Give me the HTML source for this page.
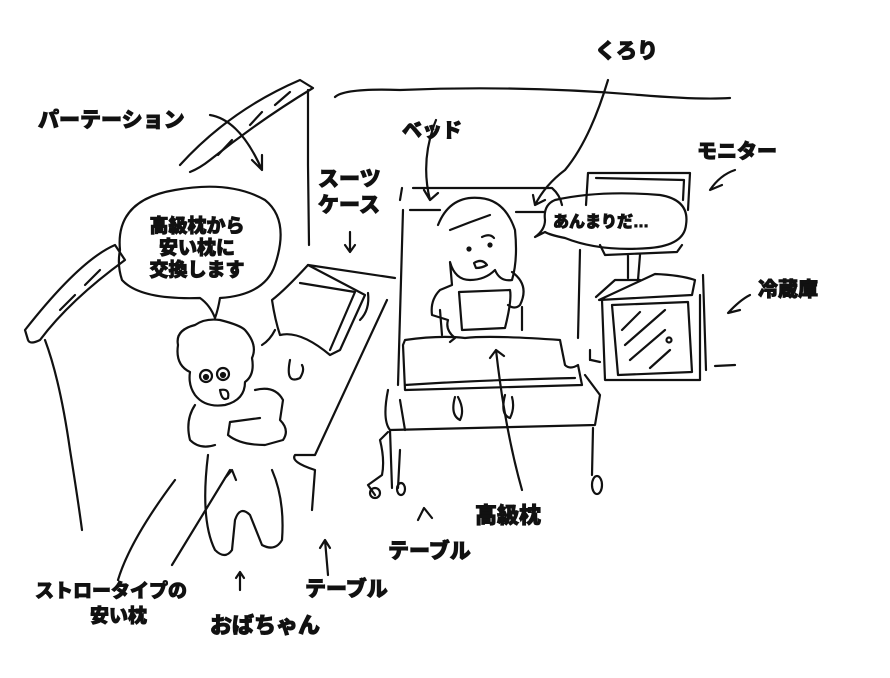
<!DOCTYPE html>
<html><head><meta charset="utf-8"><style>
html,body{margin:0;padding:0;background:#fff;}
svg{display:block}
text{font-family:"Liberation Sans","Noto Sans CJK JP",sans-serif;font-weight:900;fill:#111;stroke:#111;stroke-width:0.9;paint-order:stroke}
</style></head><body>
<svg width="890" height="678" viewBox="0 0 890 678" xmlns="http://www.w3.org/2000/svg">
<g fill="none" stroke="#111" stroke-width="2.2" stroke-linecap="round" stroke-linejoin="round">
<path d="M335 97 Q345 88 400 90 Q520 85 640 95 Q700 100 730 98"/>
<path d="M180 165 Q230 110 300 80 L313 88 Q260 120 210 160 Q200 168 190 172"/>
<path d="M218 155 L232 140 M250 125 L262 112 M275 105 L290 92"/>
<path d="M308 90 L308 165 L309 245"/>
<path d="M25 330 Q80 260 115 245 L125 260 Q70 300 40 340 Q30 345 28 340Z"/>
<path d="M60 310 L75 295 M85 285 L100 270"/>
<path d="M45 340 Q60 380 70 450 Q78 500 82 530"/>
<path d="M118 580 Q130 540 175 480"/>
<path d="M210 115 Q240 120 262 170 M252 160 L262 170 L262 155"/>
<path d="M120 250 Q115 200 175 190 Q230 180 265 200 Q290 220 275 265 Q265 295 220 298 Q218 310 215 318 Q210 305 200 298 Q140 300 122 280 Q117 265 120 250Z"/>
<path d="M308 265 L395 278"/>
<path d="M308 265 Q285 290 272 300 Q275 320 280 335 Q300 330 330 355 L340 350 L365 295 Z"/>
<path d="M300 283 L355 292 L330 350"/>
<path d="M368 293 Q370 310 360 320"/>
<path d="M387 300 Q350 380 315 455 L295 455 Q290 462 315 470 L312 510"/>
<path d="M262 345 Q270 340 275 330"/>
<path d="M290 360 Q285 385 300 378 Q305 370 302 365"/>
<path d="M178 345 Q175 330 195 325 Q205 318 220 320 Q240 325 245 330 Q258 345 252 358 Q255 375 245 382 Q245 400 225 405 Q205 408 195 395 Q188 385 190 372 Q175 365 178 345Z"/>
<circle cx="206" cy="376" r="6"/><circle cx="223" cy="374" r="6"/>
<circle cx="206" cy="377" r="2" fill="#111"/><circle cx="223" cy="375" r="2" fill="#111"/>
<path d="M220 390 Q230 388 228 398 Q222 402 220 390Z"/>
<path d="M195 405 Q185 420 190 440 Q200 450 215 445 M255 390 Q275 385 283 400 L280 420 Q290 430 283 440 L265 445 Q240 445 228 435 L230 422 L260 418"/>
<path d="M208 455 Q200 520 215 550 Q225 560 232 550 L235 520 Q240 505 250 515 L262 545 Q275 552 282 540 Q285 500 272 470"/>
<path d="M172 565 L230 470 M225 478 L232 470 L236 480"/>
<path d="M240 590 L240 572 M236 578 L240 572 L244 578"/>
<path d="M328 575 L325 540 M320 548 L325 540 L330 548"/>
<path d="M350 232 L350 252 M345 245 L350 252 L355 245"/>
<path d="M413 188 L552 188 Q560 195 562 205"/>
<path d="M402 188 L400 200 M403 210 L398 385"/>
<path d="M410 210 L440 210 M516 212 L545 212"/>
<path d="M436 120 Q420 160 430 200 M424 190 L430 200 L438 193"/>
<path d="M608 80 Q590 140 565 170 Q545 185 535 205 M533 195 L535 205 L545 200"/>
<path d="M438 225 Q450 195 480 198 Q505 200 515 230 Q518 260 512 280 Q500 282 495 270 Q485 280 470 280 Q455 280 450 262 L452 285 L440 290 Q430 300 432 315 L448 320 Q445 330 455 338 L450 342"/>
<path d="M450 230 Q470 222 490 215"/>
<circle cx="469" cy="249" r="1.5" fill="#111"/><circle cx="490" cy="245" r="1.5" fill="#111"/>
<path d="M482 237 Q490 233 494 238"/>
<path d="M474 263 Q482 258 487 265 Q482 268 476 268Z"/>
<path d="M459 292 L510 290 Q512 300 505 328 L462 330 Z"/>
<path d="M512 272 Q530 285 520 305 Q515 310 508 305 M522 307 L522 330"/>
<path d="M440 310 L442 335"/>
<path d="M405 340 Q440 335 465 338 Q490 335 560 340 L565 365 Q570 370 578 365 L582 385 L405 390 L403 345Z"/>
<path d="M405 385 Q480 380 575 378"/>
<path d="M388 390 Q382 420 390 430 L595 425 L600 395 L585 375"/>
<path d="M400 400 L405 430"/>
<path d="M455 397 Q450 415 460 420 Q465 410 458 397 M505 395 Q500 415 510 418 Q515 408 512 397"/>
<path d="M390 430 L392 488 M388 432 L380 440 Q385 460 382 475 L368 485 L375 495 M400 450 L398 488"/>
<circle cx="375" cy="493" r="5"/><ellipse cx="401" cy="489" rx="4" ry="6"/>
<path d="M593 428 L592 475"/><ellipse cx="597" cy="485" rx="5" ry="9"/>
<path d="M496 350 Q505 430 522 490 M490 358 L496 350 L504 356"/>
<path d="M418 520 L424 508 L432 518"/>
<path d="M580 250 L578 338 M590 350 L590 360"/>
<path d="M588 173 L690 173 L688 210 M596 178 L684 180 L683 200 M588 173 L586 205"/>
<path d="M600 245 L605 255 L677 252 L682 245 M628 255 L628 278 M640 255 L638 280"/>
<path d="M555 200 Q600 190 660 195 Q690 200 686 225 Q684 245 650 248 Q600 252 565 238 Q550 235 545 232 L535 237 Q545 230 545 220 Q543 205 555 200Z"/>
<path d="M735 170 Q720 175 710 190 L722 185"/>
<path d="M596 297 L615 280 L640 280 M655 274 Q680 275 695 280 L692 295 L599 300 Z"/>
<path d="M602 300 L605 380 L700 380 L700 295"/>
<path d="M612 305 L688 302 L692 372 L618 375 Z"/>
<path d="M622 330 L640 312 M625 345 L665 310 M630 360 L665 330 M650 368 L670 350"/>
<circle cx="669" cy="340" r="2.5"/>
<path d="M703 275 L706 370 M715 366 L735 365"/>
<path d="M750 295 Q740 300 728 313 L740 310"/>
<path d="M591 360 L600 362"/>
</g>
<g>
<text x="595" y="58" font-size="21">くろり</text>
<text x="38" y="127" font-size="21">パーテーション</text>
<text x="402" y="137" font-size="20">ベッド</text>
<text x="697" y="158" font-size="20">モニター</text>
<text x="318" y="186" font-size="21">スーツ</text>
<text x="318" y="212" font-size="21">ケース</text>
<text x="197" y="232" font-size="19" text-anchor="middle">高級枕から</text>
<text x="197" y="254" font-size="19" text-anchor="middle">安い枕に</text>
<text x="197" y="276" font-size="19" text-anchor="middle">交換します</text>
<text x="553" y="227" font-size="16">あんまりだ…</text>
<text x="758" y="296" font-size="20">冷蔵庫</text>
<text x="475" y="523" font-size="22">高級枕</text>
<text x="388" y="558" font-size="21">テーブル</text>
<text x="35" y="597" font-size="19">ストロータイプの</text>
<text x="90" y="622" font-size="19">安い枕</text>
<text x="305" y="596" font-size="21">テーブル</text>
<text x="210" y="633" font-size="22">おばちゃん</text>
</g>
</svg>
</body></html>
